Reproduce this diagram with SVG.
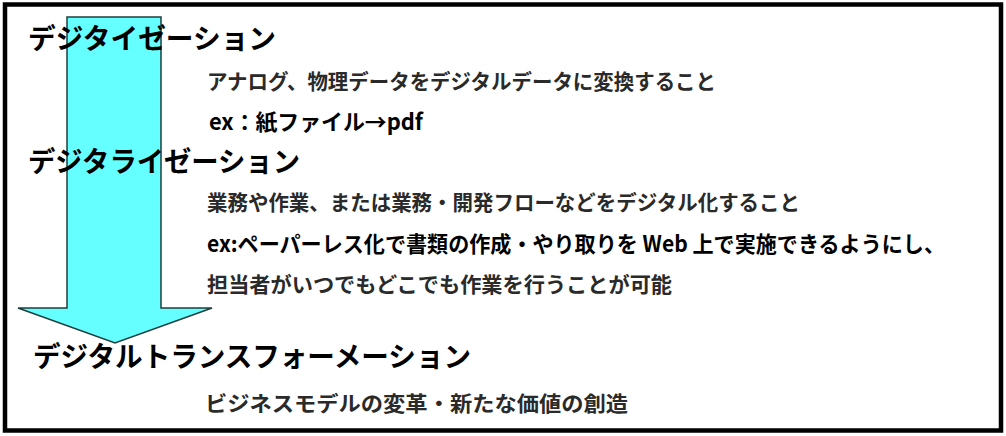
<svg xmlns="http://www.w3.org/2000/svg" width="1006" height="436" viewBox="0 0 1006 436">
<style>
.h{font-family:"Noto Sans CJK JP","Noto Sans",sans-serif;font-weight:bold;font-size:28px;fill:#000}
.t{font-family:"Noto Sans CJK JP","Noto Sans",sans-serif;font-weight:bold;font-size:21px;fill:#2a2a2a}
.e{font-family:"Noto Sans CJK JP","Noto Sans",sans-serif;font-weight:bold;font-size:22px;fill:#000}
</style>
<rect x="0" y="0" width="1006" height="436" fill="#fff"/>
<rect x="5" y="4.5" width="996" height="426" fill="none" stroke="#000" stroke-width="4.5"/>
<g id="connectors">
<polygon points="67,17 161,17 161,308 212,308 115,343 18,308 67,308" fill="#66ffff" stroke="#1f3f3f" stroke-width="1.5"/>
</g>
<g id="digitization">
<text class="h" x="28" y="49" textLength="248" lengthAdjust="spacingAndGlyphs">デジタイゼーション</text>
<text class="t" x="207" y="89" textLength="509" lengthAdjust="spacingAndGlyphs">アナログ、物理データをデジタルデータに変換すること</text>
<text class="e" x="209" y="130" textLength="214" lengthAdjust="spacingAndGlyphs">ex：紙ファイル→pdf</text>
</g>
<g id="digitalization">
<text class="h" x="28" y="172" textLength="272" lengthAdjust="spacingAndGlyphs">デジタライゼーション</text>
<text class="t" x="207" y="210" textLength="593" lengthAdjust="spacingAndGlyphs">業務や作業、または業務・開発フローなどをデジタル化すること</text>
<text class="e" x="207" y="252" textLength="738" lengthAdjust="spacingAndGlyphs">ex:ペーパーレス化で書類の作成・やり取りを Web 上で実施できるようにし、</text>
<text class="t" x="207" y="292" textLength="465" lengthAdjust="spacingAndGlyphs">担当者がいつでもどこでも作業を行うことが可能</text>
</g>
<g id="dx">
<text class="h" x="33" y="367" textLength="438" lengthAdjust="spacingAndGlyphs">デジタルトランスフォーメーション</text>
<text class="t" x="205" y="411" textLength="423" lengthAdjust="spacingAndGlyphs">ビジネスモデルの変革・新たな価値の創造</text>
</g>
</svg>
